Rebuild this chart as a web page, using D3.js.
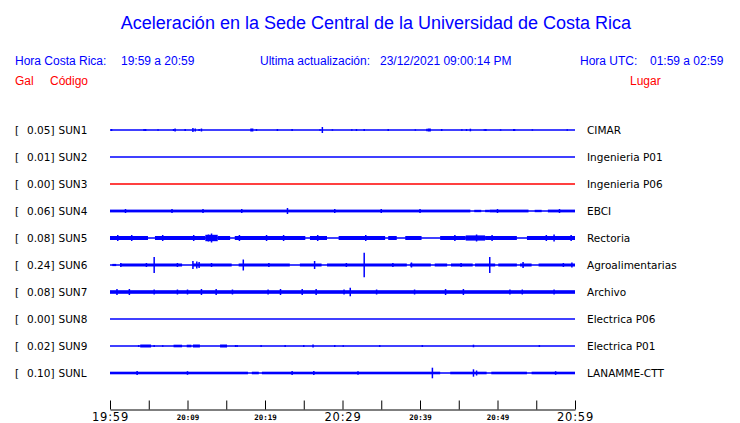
<!DOCTYPE html>
<html><head><meta charset="utf-8">
<script src="https://cdn.jsdelivr.net/npm/d3@7"></script>
<style>
html,body{margin:0;padding:0;background:#fff;}
svg{display:block;}
</style></head>
<body>
<script>
// ---------------- DATA ----------------
const codes  = ["SUN1","SUN2","SUN3","SUN4","SUN5","SUN6","SUN7","SUN8","SUN9","SUNL"];
const gals   = [0.05, 0.01, 0.00, 0.06, 0.08, 0.24, 0.08, 0.00, 0.02, 0.10];
const places = ["CIMAR","Ingenieria P01","Ingenieria P06","EBCI","Rectoria","Agroalimentarias","Archivo","Electrica P06","Electrica P01","LANAMME-CTT"];
const offlineCode = "SUN3";
// time axis (minutes after 19:59)
const minutes = [0, 60];
const tickMinutes = [0,5,10,15,20,25,30,35,40,45,50,55,60];
const tickLabels  = {0:"19:59",10:"20:09",20:"20:19",30:"20:29",40:"20:39",50:"20:49",60:"20:59"};
const majorTicks  = [0,30,60];
// envelope segments per station: [startMin, endMin, amplitude]
const bands = [
  [[18.1,18.5,1.5],[41.0,41.4,1.5],[52.0,52.3,1.0]],
  [],
  [],
  [[0,46.5,1.4],[47.0,47.9,1.2],[48.4,49.0,1.2],[49.0,54.0,1.4],[54.8,55.7,1.2],[56.5,60,1.4]],
  [[0,4.9,2],[5.8,12.3,2],[12.3,13.9,3.2],[13.9,15.5,2],[16.1,25.2,2],[25.8,28.0,2],[29.5,35.5,2],[35.9,37.0,2],[38.1,40.2,2],[42.6,45.9,2],[45.9,48.4,2.6],[48.4,52.5,2],[53.8,60,2]],
  [[0.3,0.8,1.1],[1.3,9.3,1.5],[10.7,15.7,1.5],[16.6,23.2,1.5],[24.5,27.3,1.5],[28.0,38.3,1.5],[38.7,41.4,1.5],[41.9,43.5,1.5],[44.0,46.8,1.5],[47.1,49.7,1.5],[50.1,52.5,1.5],[52.9,54.4,1.5],[55.3,60,1.5]],
  [[0,60,1.8]],
  [],
  [[3.9,5.3,1.5],[8.2,9.3,1.3],[9.9,10.5,1.3],[10.7,11.6,1.5],[14.2,15.1,1.5]],
  [[0,17.8,1.3],[18.3,19.2,1.3],[19.6,42.6,1.3],[43.9,48.6,1.3],[49.2,53.8,1.3],[54.4,60,1.3]]
];
// isolated peaks per station: [minute, amplitude]
const spikes = [
  [[0.2,1],[4.4,1],[4.6,1],[6.2,0.7],[8.2,1],[8.4,1.5],[9.7,1],[10.7,2],[11.0,1.5],[11.5,1],[11.8,1.5],[18.9,1],[21.6,1],[23.5,1],[27.1,0.7],[27.4,3],[28.7,0.7],[31.2,0.7],[31.8,1],[32.8,1],[35.9,1],[39.4,0.7],[40.9,1.2],[42.8,1],[45.4,0.7],[46.0,1],[46.5,1.3],[48.3,0.7],[48.5,1],[50.4,0.7],[54.5,0.7],[59.0,0.7]],
  [],
  [],
  [[22.9,3],[2.0,2],[8.0,2],[12.0,2],[17.0,2],[29.0,2],[35.0,2],[40.0,2],[50.0,2],[58.0,2]],
  [[13.1,4.5],[12.7,3.5],[1.0,3],[2.8,3],[6.8,3],[10.8,3],[16.7,3],[20.2,3],[22.4,3],[26.8,3],[33.0,3],[44.5,3],[47.3,3.5],[49.3,3],[56.3,3],[57.3,3.5],[59.5,3]],
  [[5.7,8],[10.7,4],[11.2,3.5],[11.5,3],[17.2,5.5],[26.4,4],[32.8,12.3],[38.9,2.5],[49.0,8],[53.3,3],[1.4,2],[4.7,2],[8.7,2],[13.1,2],[20.5,2],[30.5,2],[36.5,2],[45.3,2],[58.5,2],[59.6,2.5]],
  [[31.0,4.3],[0.9,3],[2.5,3],[5.7,2.5],[8.7,2.5],[10.0,2.5],[11.8,3],[13.7,3],[15.8,2.5],[20.4,2.5],[22.0,3],[24.8,3],[26.6,3],[30.2,2.5],[34.4,2.5],[39.3,2.5],[43.3,3],[45.6,3],[51.6,2.5],[53.2,2.5],[57.3,2.5]],
  [],
  [[3.7,1],[5.7,1],[6.8,0.8],[16.2,1],[16.4,1],[19.5,1],[22.6,1],[25.0,1],[26.2,1.5],[29.0,1],[30.1,0.8],[34.8,1],[40.3,1],[46.9,1.3],[55.4,1]],
  [[41.6,5.3],[46.9,3.7],[47.3,2.5],[3.5,2],[23.5,2],[26.3,2],[10.0,1.8],[32.0,1.8],[57.5,1.8]]
];

// ---------------- DRAW ----------------
const W = 740, H = 423;
const svg = d3.select("body").append("svg").attr("width", W).attr("height", H);
const blue = "#0000ff", red = "#ff0000";
const sans = "'Liberation Sans', Arial, sans-serif";
const dv = "'DejaVu Sans', sans-serif";

svg.append("text").attr("x", 376).attr("y", 29).attr("text-anchor","middle")
  .attr("font-family", sans).attr("font-size", 18).attr("fill", blue)
  .text("Aceleración en la Sede Central de la Universidad de Costa Rica");

const hdr = [
  {x:15, t:"Hora Costa Rica:"}, {x:121, t:"19:59 a 20:59"},
  {x:260, t:"Ultima actualización:"}, {x:380, t:"23/12/2021 09:00:14 PM"},
  {x:580, t:"Hora UTC:"}, {x:650, t:"01:59 a 02:59"}
];
svg.selectAll("text.hdr").data(hdr).join("text").attr("class","hdr")
  .attr("x", d=>d.x).attr("y", 65).attr("font-family", sans).attr("font-size", 12)
  .attr("fill", blue).text(d=>d.t);
const sub = [{x:15,t:"Gal"},{x:50,t:"Código"},{x:630,t:"Lugar"}];
svg.selectAll("text.sub").data(sub).join("text").attr("class","sub")
  .attr("x", d=>d.x).attr("y", 85).attr("font-family", sans).attr("font-size", 12)
  .attr("fill", red).text(d=>d.t);

const x = d3.scaleLinear().domain(minutes).range([110, 575]);
const y = d3.scalePoint().domain(codes).range([130, 373]);
const amp = d3.scaleLinear().domain([0, 13.5]).range([0, 13.5]);

codes.forEach((c, i) => {
  const yc = y(c);
  const col = c === offlineCode ? red : blue;
  const g = svg.append("g");
  // label
  g.append("text").attr("x", 15).attr("y", yc+4).attr("font-family", dv).attr("font-size", 10.5).attr("fill","#000").text("[");
  g.append("text").attr("x", 54.5).attr("y", yc+4).attr("text-anchor","end").attr("font-family", dv).attr("font-size", 10.5).attr("fill","#000").text(gals[i].toFixed(2)+"]");
  g.append("text").attr("x", 58.5).attr("y", yc+4).attr("font-family", dv).attr("font-size", 10.5).attr("fill","#000").text(c);
  g.append("text").attr("x", 587).attr("y", yc+4).attr("font-family", dv).attr("font-size", 10.5).attr("fill","#000").text(places[i]);
  // baseline trace
  g.append("line").attr("x1", x(minutes[0])).attr("x2", x(minutes[1]))
    .attr("y1", yc).attr("y2", yc).attr("stroke", col).attr("stroke-width", 1.3);
  // envelope bands
  g.selectAll("rect").data(bands[i]).join("rect")
    .attr("x", d=>x(d[0])).attr("width", d=>Math.max(1, x(d[1])-x(d[0])))
    .attr("y", d=>yc-amp(d[2])).attr("height", d=>2*amp(d[2])).attr("fill", col);
  // spikes
  g.selectAll("line.sp").data(spikes[i]).join("line").attr("class","sp")
    .attr("x1", d=>x(d[0])).attr("x2", d=>x(d[0]))
    .attr("y1", d=>yc-amp(d[1])).attr("y2", d=>yc+amp(d[1]))
    .attr("stroke", col).attr("stroke-width", 1.5);
});

// time axis
const axis = d3.axisBottom(x).tickValues(tickMinutes).tickSize(-9).tickSizeOuter(0).tickPadding(3)
  .tickFormat(d => tickLabels[d] || "");
const ag = svg.append("g").attr("transform","translate(0,409.5)").call(axis);
ag.select(".domain").attr("stroke","#000").attr("stroke-width",1);
ag.selectAll(".tick line").attr("stroke","#000");
ag.selectAll(".tick text").attr("fill","#000")
  .attr("font-family", d => majorTicks.includes(d) ? dv : "'DejaVu Sans Mono', monospace")
  .attr("font-weight", d => majorTicks.includes(d) ? "normal" : "bold")
  .attr("font-size", d => majorTicks.includes(d) ? 11.5 : 7.5)
  .attr("letter-spacing", d => majorTicks.includes(d) ? 0.8 : 0)
  .attr("dy", d => majorTicks.includes(d) ? "0.71em" : "0.95em");
</script>
</body></html>
